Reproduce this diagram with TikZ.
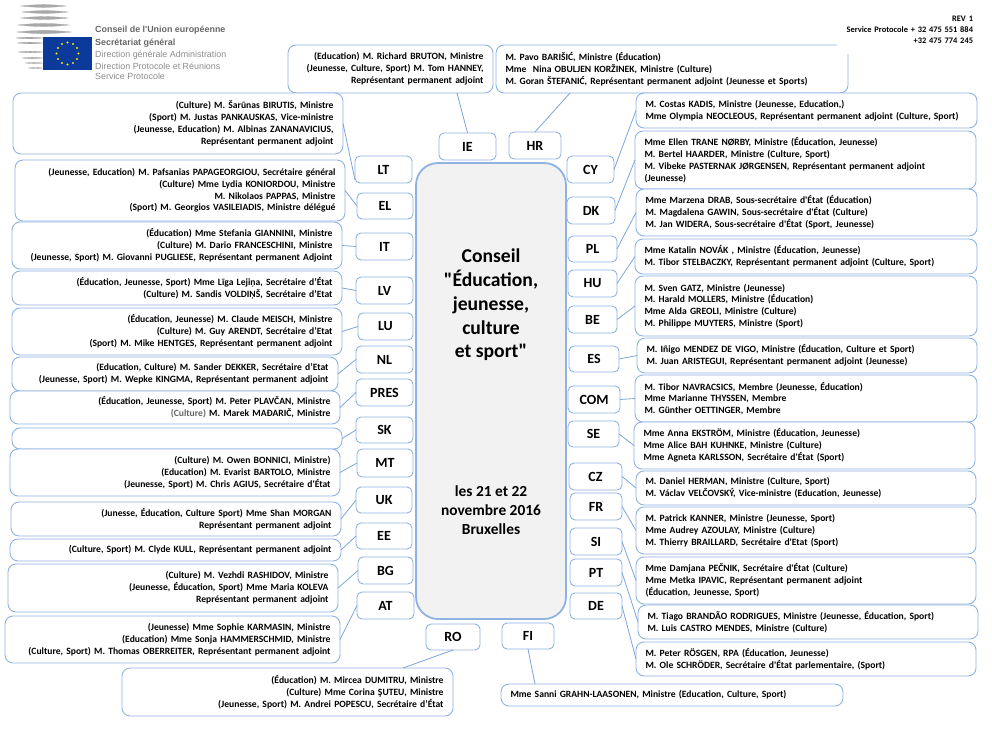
\documentclass[tikz,border=0pt]{standalone}
\usepackage{fontspec}
\newfontfamily\bodyfont{Carlito}
\newfontfamily\logofont{Liberation Sans}
\definecolor{boxblue}{HTML}{8FB2E0}
\definecolor{linkblue}{HTML}{7CA3DB}
\definecolor{centrefill}{HTML}{F2F2F2}
\definecolor{flagblue}{HTML}{0B3A9A}
\definecolor{stripegrey}{HTML}{A8A8A8}
\tikzset{
  delegbox/.style 2 args={draw=boxblue,fill=white,rounded corners=8pt,line width=.9pt,
    inner xsep=9.5pt,inner ysep=0pt,outer sep=0pt,text width=#1pt-19pt,minimum height=#2pt,
    font=\bodyfont\bfseries\fontsize{9.6}{11.8}\selectfont},
  lefttext/.style 2 args={delegbox={#1}{#2},align=right},
  righttext/.style 2 args={delegbox={#1}{#2},align=left},
  country/.style 2 args={draw=boxblue,fill=white,rounded corners=5pt,line width=.9pt,
    inner sep=0pt,outer sep=0pt,minimum width=#1pt,minimum height=#2pt,
    font=\bodyfont\bfseries\fontsize{14}{16}\selectfont},
  logoline/.style={inner sep=0pt,anchor=west,text=black!60,font=\logofont\fontsize{8.9}{10}\selectfont}
}
\begin{document}
\begin{tikzpicture}[x=1pt,y=-1pt]

  \useasboundingbox (0,0) rectangle (992,744);

  % emblem
  \foreach \xa/\xb/\ya in {21/66/6,22/68/12,21/68/18,18/69/25,17/71/32,16/43/38,17/43/43,18/43/52,22/43/58,25/43/63,28/43/68}
    \draw[stripegrey,fill=stripegrey,line width=.3pt] (\xa,\ya) to[bend left=6] (\xb,\ya) to[bend left=6] cycle;
  \fill[flagblue] (43,37) rectangle (92,70);
  \foreach \ang in {0,30,...,330}
    \fill[yellow!90!orange] (67.5,53.5) ++(\ang:11) circle (1.2);

  \node[logoline,font=\logofont\bfseries\fontsize{8.9}{10}\selectfont] (lg1) at (95,30) {Conseil de l'Union européenne};
  \node[logoline,font=\logofont\bfseries\fontsize{8.9}{10}\selectfont] (lg2) at (95,43) {Secrétariat général};
  \node[logoline,text=black!45] (lg3) at (95,55) {Direction générale Administration};
  \node[logoline,text=black!45] (lg4) at (95,66) {Direction Protocole et Réunions};
  \node[logoline,text=black!45] (lg5) at (95,76) {Service Protocole};

  % central block
  \node[draw=boxblue,fill=centrefill,rounded corners=22pt,line width=1.8pt,minimum width=150pt,minimum height=456pt,outer sep=0pt] (centre) at (491,391) {};
  \node[align=center,font=\bodyfont\bfseries\fontsize{19.6}{23.8}\selectfont] (title) at (491,305) {Conseil\\"Éducation,\\jeunesse,\\culture\\et sport"};
  \node[align=center,font=\bodyfont\bfseries\fontsize{15.4}{19}\selectfont] (date) at (491,510) {les 21 et 22\\novembre 2016\\Bruxelles};

  \begin{scope}
    \node[lefttext={205}{48}] (tIE) at (390.5,69) {(Education) M. Richard BRUTON, Ministre\\(Jeunesse, Culture, Sport) M. Tom HANNEY,\\Représentant permanent adjoint};
    \node[righttext={352}{48}] (tHR) at (672,69) {M. Pavo BARIŠIĆ, Ministre (Éducation)\\Mme~ Nina OBULJEN KORŽINEK, Ministre (Culture)\\M. Goran ŠTEFANIĆ, Représentant permanent adjoint (Jeunesse et Sports)};

    \node[lefttext={330}{61}] (tLT) at (178,123.5) {(Culture) M. Šarūnas BIRUTIS, Ministre\\(Sport) M. Justas PANKAUSKAS, Vice-ministre\\(Jeunesse, Education) M. Albinas ZANANAVICIUS,\\Représentant permanent adjoint};
    \node[lefttext={330}{61}] (tEL) at (180,190.5) {(Jeunesse, Education) M. Pafsanias PAPAGEORGIOU, Secrétaire général\\(Culture) Mme Lydia KONIORDOU, Ministre\\M. Nikolaos PAPPAS, Ministre\\(Sport) M. Georgios VASILEIADIS, Ministre délégué};
    \node[lefttext={330}{47}] (tIT) at (177,245.5) {(Éducation) Mme Stefania GIANNINI, Ministre\\(Culture) M. Dario FRANCESCHINI, Ministre\\(Jeunesse, Sport) M. Giovanni PUGLIESE, Représentant permanent Adjoint};
    \node[lefttext={330}{34}] (tLV) at (177,288) {(Éducation, Jeunesse, Sport) Mme Līga Lejiņa, Secrétaire d’État\\(Culture) M. Sandis VOLDIŅŠ, Secrétaire d’Etat};
    \node[lefttext={330}{47}] (tLU) at (177,331.5) {(Éducation, Jeunesse) M. Claude MEISCH, Ministre\\(Culture) M. Guy ARENDT, Secrétaire d’Etat\\(Sport) M. Mike HENTGES, Représentant permanent adjoint};
    \node[lefttext={326}{34}] (tNL) at (175,374) {(Education, Culture) M. Sander DEKKER, Secrétaire d’Etat\\(Jeunesse, Sport) M. Wepke KINGMA, Représentant permanent adjoint};
    \node[lefttext={330}{33}] (tPRES) at (175,407.5) {(Éducation, Jeunesse, Sport) M. Peter PLAVČAN, Ministre\\{\color{black!60}(Culture)} M. Marek MAĐARIČ, Ministre};
    \node[lefttext={330}{21}] (tSK) at (177,438.5) {};
    \node[lefttext={330}{47}] (tMT) at (175,472.5) {(Culture) M. Owen BONNICI, Ministre)\\(Education) M. Evarist BARTOLO, Ministre\\(Jeunesse, Sport) M. Chris AGIUS, Secrétaire d'État};
    \node[lefttext={330}{34}] (tUK) at (176,519) {(Junesse, Éducation, Culture Sport) Mme Shan MORGAN\\Représentant permanent adjoint};
    \node[lefttext={331}{22}] (tEE) at (175.5,550) {(Culture, Sport) M. Clyde KULL, Représentant permanent adjoint};
    \node[lefttext={330}{48}] (tBG) at (173,588) {(Culture) M. Vezhdi RASHIDOV, Ministre\\(Jeunesse, Éducation, Sport) Mme Maria KOLEVA\\Représentant permanent adjoint};
    \node[lefttext={335}{47}] (tAT) at (172.5,639.5) {(Jeunesse) Mme Sophie KARMASIN, Ministre\\(Education) Mme Sonja HAMMERSCHMID, Ministre\\(Culture, Sport) M. Thomas OBERREITER, Représentant permanent adjoint};
    \node[lefttext={331}{48}] (tRO) at (287.5,692) {(Éducation) M. Mircea DUMITRU, Ministre\\(Culture) Mme Corina ŞUTEU, Ministre\\(Jeunesse, Sport) M. Andrei POPESCU, Secrétaire d’État};

    \node[righttext={341}{35}] (tCY) at (806.5,110.5) {M. Costas KADIS, Ministre (Jeunesse, Education,)\\Mme Olympia NEOCLEOUS, Représentant permanent adjoint (Culture, Sport)};
    \node[righttext={341}{58}] (tDK) at (805.5,160) {Mme Ellen TRANE NØRBY, Ministre (Éducation, Jeunesse)\\M. Bertel HAARDER, Ministre (Culture, Sport)\\M. Vibeke PASTERNAK JØRGENSEN, Représentant permanent adjoint\\(Jeunesse)};
    \node[righttext={341}{47}] (tPL) at (806.5,212.5) {Mme Marzena DRAB, Sous-secrétaire d'État (Éducation)\\M. Magdalena GAWIN, Sous-secrétaire d'État (Culture)\\M. Jan WIDERA, Sous-secrétaire d'État (Sport, Jeunesse)};
    \node[righttext={342}{35}] (tHU) at (806,256.5) {Mme Katalin NOVÁK , Ministre (Éducation, Jeunesse)\\M. Tibor STELBACZKY, Représentant permanent adjoint (Culture, Sport)};
    \node[righttext={342}{60}] (tBE) at (806,306) {M. Sven GATZ, Ministre (Jeunesse)\\M. Harald MOLLERS, Ministre (Éducation)\\Mme Alda GREOLI, Ministre (Culture)\\M. Philippe MUYTERS, Ministre (Sport)};
    \node[righttext={340}{35}] (tES) at (807,355.5) {M. Iñigo MENDEZ DE VIGO, Ministre (Éducation, Culture et Sport)\\M. Juan ARISTEGUI, Représentant permanent adjoint (Jeunesse)};
    \node[righttext={342}{47}] (tCOM) at (806,398.5) {M. Tibor NAVRACSICS, Membre (Jeunesse, Éducation)\\Mme Marianne THYSSEN, Membre\\M. Günther OETTINGER, Membre};
    \node[righttext={341}{47}] (tSE) at (804.5,445.5) {Mme Anna EKSTRÖM, Ministre (Éducation, Jeunesse)\\Mme Alice BAH KUHNKE, Ministre (Culture)\\Mme Agneta KARLSSON, Secrétaire d'État (Sport)};
    \node[righttext={340}{34}] (tCZ) at (806,488) {M. Daniel HERMAN, Ministre (Culture, Sport)\\M. Václav VELČOVSKÝ, Vice-ministre (Education, Jeunesse)};
    \node[righttext={340}{47}] (tFR) at (806,530.5) {M. Patrick KANNER, Ministre (Jeunesse, Sport)\\Mme Audrey AZOULAY, Ministre (Culture)\\M. Thierry BRAILLARD, Secrétaire d'Etat (Sport)};
    \node[righttext={340}{47}] (tSI) at (806,580.5) {Mme Damjana PEČNIK, Secrétaire d'État (Culture)\\Mme Metka IPAVIC, Représentant permanent adjoint\\(Éducation, Jeunesse, Sport)};
    \node[righttext={340}{34}] (tPT) at (808,622) {M. Tiago BRANDÃO RODRIGUES, Ministre (Jeunesse, Éducation, Sport)\\M. Luis CASTRO MENDES, Ministre (Culture)};
    \node[righttext={340}{34}] (tDE) at (806,659) {M. Peter RÖSGEN, RPA (Éducation, Jeunesse)\\M. Ole SCHRÖDER, Secrétaire d'État parlementaire, (Sport)};
    \node[righttext={342}{22}] (tFI) at (672,695) {Mme Sanni GRAHN-LAASONEN, Ministre (Education, Culture, Sport)};
  \end{scope}

  \node[fill=white,inner xsep=6pt,inner ysep=0pt,text width=130pt,minimum height=48pt,align=right,font=\bodyfont\bfseries\fontsize{8.4}{10.7}\selectfont] (rev) at (908,30) {REV 1\\Service Protocole + 32 475 551 884\\+32 475 774 245};

  \begin{scope}
    \node[country={57}{27}] (IE) at (467.5,146.5) {IE};
    \node[country={52}{27}] (HR) at (535,145.5) {HR};
    \node[country={57}{27}] (LT) at (383.5,169.5) {LT};
    \node[country={56}{26}] (EL) at (385,206) {EL};
    \node[country={57}{27}] (IT) at (384.5,246.5) {IT};
    \node[country={57}{27}] (LV) at (384.5,290.5) {LV};
    \node[country={55}{27}] (LU) at (385.5,326.5) {LU};
    \node[country={57}{27}] (NL) at (384.5,359.5) {NL};
    \node[country={57}{27}] (PRES) at (384.5,392.5) {PRES};
    \node[country={57}{26}] (SK) at (384.5,430) {SK};
    \node[country={56}{28}] (MT) at (385,463) {MT};
    \node[country={56}{26}] (UK) at (384,500) {UK};
    \node[country={56}{26}] (EE) at (384,536) {EE};
    \node[country={55}{27}] (BG) at (385.5,570.5) {BG};
    \node[country={57}{27}] (AT) at (385.5,605.5) {AT};
    \node[country={54}{26}] (RO) at (453,637) {RO};
    \node[country={52}{26}] (FI) at (528,636) {FI};
    \node[country={47}{27}] (CY) at (590.5,169.5) {CY};
    \node[country={48}{27}] (DK) at (591,210.5) {DK};
    \node[country={49}{26}] (PL) at (592.5,249) {PL};
    \node[country={49}{27}] (HU) at (592.5,283.5) {HU};
    \node[country={49}{27}] (BE) at (592.5,319.5) {BE};
    \node[country={50}{26}] (ES) at (594,359) {ES};
    \node[country={52}{27}] (COM) at (594,399.5) {COM};
    \node[country={51}{26}] (SE) at (593.5,434) {SE};
    \node[country={53}{27}] (CZ) at (595.5,476.5) {CZ};
    \node[country={52}{27}] (FR) at (596,506.5) {FR};
    \node[country={52}{27}] (SI) at (596,541.5) {SI};
    \node[country={52}{27}] (PT) at (596,572.5) {PT};
    \node[country={52}{26}] (DE) at (596,606) {DE};
  \end{scope}

  \begin{scope}[every edge/.style={draw=linkblue,line width=.8pt}]
    \path ([xshift=66.5pt]tIE.south) edge (IE.north);
    \path ([xshift=-102pt]tHR.south) edge (HR.north);
    \path (tLT.east) edge ([yshift=-10.5pt]LT.west);
    \foreach \name in {EL,IT,LV,LU,NL,PRES,SK,MT,UK,EE,BG,AT}
      \path (t\name.east) edge (\name.west);
    \foreach \name in {CY,DK,PL,HU,BE,ES,COM,SE,CZ,FR,SI,PT,DE}
      \path (\name.east) edge (t\name.west);
    \path ([xshift=115.5pt]tRO.north) edge (RO.south);
    \path ([xshift=-137pt]tFI.north) edge (FI.south);
  \end{scope}

\end{tikzpicture}
\end{document}
